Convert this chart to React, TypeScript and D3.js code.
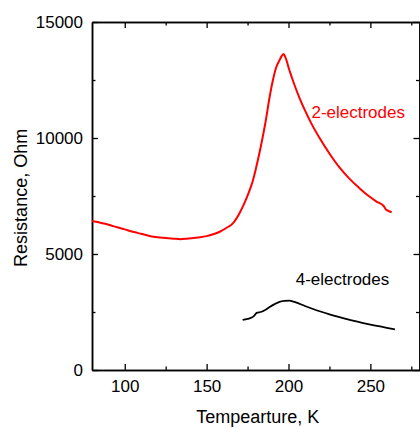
import React, { useEffect, useRef } from 'react';
import * as d3 from 'd3';

// two-electrode measurement (red)
const tempTwo = [80, 84, 88, 92, 96, 100, 105, 110, 115, 120, 125, 130, 134, 138, 142, 146, 150, 154, 158, 162, 166, 170, 173, 176, 178, 180, 183, 186, 188.5, 190.5, 192.5, 194.5, 196, 197, 198, 199, 200, 202, 204, 207, 210, 214, 219, 225, 231, 237, 243, 249, 254, 258, 259.5, 261, 263];
const resTwo = [6420, 6370, 6300, 6220, 6140, 6060, 5960, 5870, 5780, 5720, 5690, 5660, 5640, 5660, 5690, 5720, 5770, 5850, 5960, 6120, 6320, 6750, 7180, 7700, 8100, 8650, 9600, 10700, 11780, 12500, 13050, 13350, 13550, 13620, 13500, 13300, 13050, 12620, 12220, 11680, 11200, 10620, 10000, 9330, 8740, 8260, 7860, 7500, 7250, 7080, 6920, 6860, 6800];

// four-electrode measurement (black)
const tempFour = [172, 175, 177.5, 179, 180.5, 183.5, 186, 188.5, 191.5, 194.5, 197.5, 200.5, 203, 205, 210, 215, 220, 225, 230, 235, 240, 245, 250, 255, 260, 265];
const resFour = [2160, 2200, 2260, 2330, 2460, 2510, 2600, 2720, 2840, 2940, 2980, 2990, 2950, 2900, 2760, 2630, 2510, 2400, 2300, 2205, 2115, 2035, 1960, 1890, 1820, 1755];

const xMajor = [100, 150, 200, 250];
const xMinor = [125, 175, 225, 275];
const yMajor = [0, 5000, 10000, 15000];
const yMinor = [2500, 7500, 12500];

const W = 420;
const H = 428;
const FONT = "'Liberation Sans', Arial, sans-serif";

const App: React.FC = () => {
  const svgRef = useRef<SVGSVGElement>(null);

  useEffect(() => {
    if (!svgRef.current) return;
    const svg = d3.select(svgRef.current);
    svg.selectAll('*').remove();

    const margin = { top: 22, right: 0.5, bottom: 58, left: 92 };
    const width = W - margin.left - margin.right;
    const height = H - margin.top - margin.bottom;

    const chart = svg.append('g').attr('transform', `translate(${margin.left}, ${margin.top})`);

    const x = d3.scaleLinear().domain([80, 280]).range([0, width]);
    const y = d3.scaleLinear().domain([0, 15000]).range([height, 0]);

    // axes with inward ticks
    const styleAxis = (g: d3.Selection<SVGGElement, unknown, null, undefined>) => {
      g.selectAll('path').attr('stroke', '#000').attr('stroke-width', 1.5);
      g.selectAll('line').attr('stroke', '#000').attr('stroke-width', 1.3);
      g.selectAll('text').attr('font-family', FONT).attr('font-size', 17).attr('fill', '#000');
    };

    chart.append('g').attr('transform', `translate(0, ${height})`)
      .call(d3.axisBottom(x).tickValues(xMajor).tickSizeInner(-6).tickSizeOuter(0).tickPadding(10).tickFormat(d3.format('d')))
      .call(styleAxis);
    chart.append('g').attr('transform', `translate(0, ${height})`)
      .call(d3.axisBottom(x).tickValues(xMinor).tickSizeInner(-3.5).tickSizeOuter(0).tickFormat(() => ''))
      .call(styleAxis);
    chart.append('g')
      .call(d3.axisTop(x).tickValues(xMajor).tickSizeInner(-6).tickSizeOuter(0).tickFormat(() => ''))
      .call(styleAxis);
    chart.append('g')
      .call(d3.axisTop(x).tickValues(xMinor).tickSizeInner(-3.5).tickSizeOuter(0).tickFormat(() => ''))
      .call(styleAxis);

    chart.append('g')
      .call(d3.axisLeft(y).tickValues(yMajor).tickSizeInner(-6).tickSizeOuter(0).tickPadding(9).tickFormat(d3.format('d')))
      .call(styleAxis);
    chart.append('g')
      .call(d3.axisLeft(y).tickValues(yMinor).tickSizeInner(-3.5).tickSizeOuter(0).tickFormat(() => ''))
      .call(styleAxis);
    chart.append('g').attr('transform', `translate(${width}, 0)`)
      .call(d3.axisRight(y).tickValues(yMajor).tickSizeInner(-6).tickSizeOuter(0).tickFormat(() => ''))
      .call(styleAxis);
    chart.append('g').attr('transform', `translate(${width}, 0)`)
      .call(d3.axisRight(y).tickValues(yMinor).tickSizeInner(-3.5).tickSizeOuter(0).tickFormat(() => ''))
      .call(styleAxis);

    // curves
    const line = d3.line<[number, number]>().x(d => x(d[0])).y(d => y(d[1])).curve(d3.curveMonotoneX);

    chart.append('path')
      .datum(tempTwo.map((t, i) => [t, resTwo[i]] as [number, number]))
      .attr('fill', 'none')
      .attr('stroke', '#ff0000')
      .attr('stroke-width', 2)
      .attr('d', line);

    chart.append('path')
      .datum(tempFour.map((t, i) => [t, resFour[i]] as [number, number]))
      .attr('fill', 'none')
      .attr('stroke', '#000')
      .attr('stroke-width', 1.8)
      .attr('d', line);

    // series labels
    chart.append('text')
      .attr('x', x(214)).attr('y', y(10860))
      .attr('font-family', FONT).attr('font-size', 17).attr('fill', '#ff0000')
      .text('2-electrodes');
    chart.append('text')
      .attr('x', x(204.4)).attr('y', y(3680))
      .attr('font-family', FONT).attr('font-size', 17).attr('fill', '#000')
      .text('4-electrodes');

    // axis titles
    svg.append('text')
      .attr('x', margin.left + x(181.2)).attr('y', 423)
      .attr('text-anchor', 'middle')
      .attr('font-family', FONT).attr('font-size', 18)
      .text('Tempearture, K');
    svg.append('text')
      .attr('transform', `translate(27, ${margin.top + y(7420)}) rotate(-90)`)
      .attr('text-anchor', 'middle')
      .attr('font-family', FONT).attr('font-size', 18)
      .text('Resistance, Ohm');
  }, []);

  return (
    <svg ref={svgRef} width={W} height={H}
      style={{ position: 'absolute', left: 0, top: 0, background: '#fff' }} />
  );
};

export default App;
